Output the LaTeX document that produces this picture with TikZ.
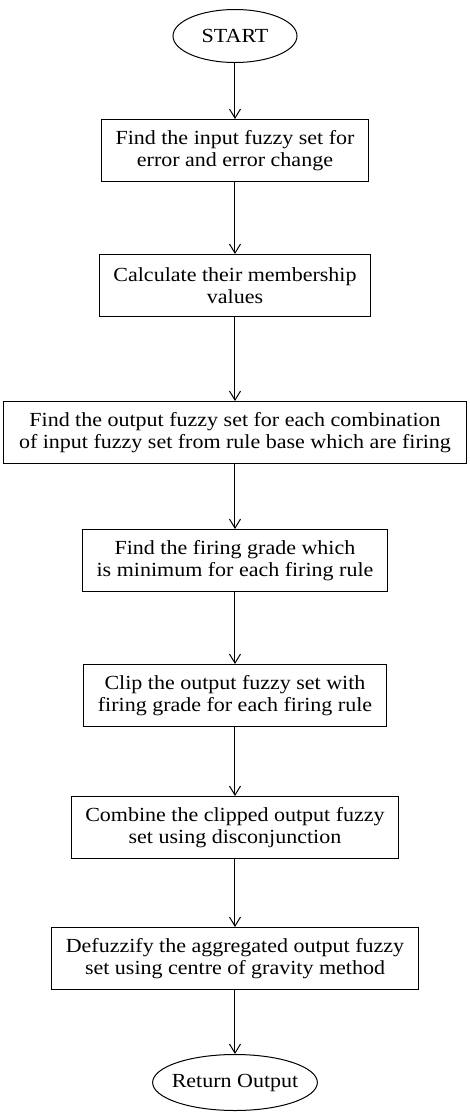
\documentclass[tikz,border=0pt]{standalone}
\usepackage{fontspec}
\setmainfont{Liberation Serif}[FakeStretch=1.1]
\usepackage{tikz}
\usetikzlibrary{shapes.geometric, arrows.meta, positioning}
\tikzset{
  term/.style={ellipse, draw=black, line width=1pt, inner sep=0pt,
    font=\fontsize{20}{22}\selectfont, text=black},
  stepbox/.style={rectangle, draw=black, line width=1pt, align=center,
    minimum height=62pt, inner xsep=14pt, inner ysep=6pt,
    font=\fontsize{20}{22}\selectfont, text=black},
  arr/.style={-{Straight Barb[length=9pt, width=11pt]}, line width=1pt, color=black},
}
\begin{document}
\begin{tikzpicture}[x=1pt, y=1pt]
  \useasboundingbox (-235,36) rectangle (234,-1078);
  \node[term, minimum width=124pt, minimum height=53pt] (start) at (0,0) {START};
  \node[stepbox, below=56pt of start] (s1)
    {Find the input fuzzy set for\\error and error change};
  \node[stepbox, below=72pt of s1] (s2)
    {Calculate their membership\\values};
  \node[stepbox, below=84pt of s2, minimum width=462pt] (s3)
    {Find the output fuzzy set for each combination\\of input fuzzy set from rule base which are firing};
  \node[stepbox, below=65pt of s3] (s4)
    {Find the firing grade which\\is minimum for each firing rule};
  \node[stepbox, below=72pt of s4] (s5)
    {Clip the output fuzzy set with\\firing grade for each firing rule};
  \node[stepbox, below=69pt of s5] (s6)
    {Combine the clipped output fuzzy\\set using disconjunction};
  \node[stepbox, below=68pt of s6] (s7)
    {Defuzzify the aggregated output fuzzy\\set using centre of gravity method};
  \node[term, below=64pt of s7, inner xsep=-5pt, minimum width=160pt,
        minimum height=56pt] (stop)
    {Return Output};
  \draw[arr] (start)--(s1); \draw[arr] (s1)--(s2);
  \draw[arr] (s2)--(s3); \draw[arr] (s3)--(s4);
  \draw[arr] (s4)--(s5); \draw[arr] (s5)--(s6);
  \draw[arr] (s6)--(s7); \draw[arr] (s7)--(stop);
\end{tikzpicture}
\end{document}
